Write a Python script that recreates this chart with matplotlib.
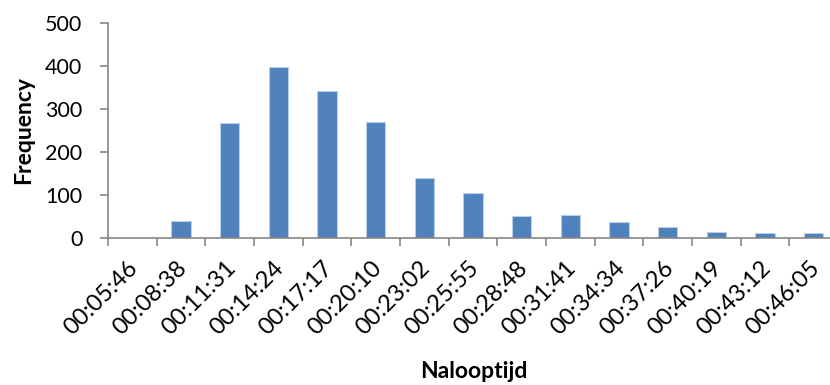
import matplotlib
matplotlib.use("Agg")
import matplotlib.pyplot as plt
import matplotlib.transforms as mtransforms
import numpy as np

plt.rcParams['font.family'] = ['Lato', 'DejaVu Sans']

# histogram data
bins = ['00:05:46', '00:08:38', '00:11:31', '00:14:24', '00:17:17',
        '00:20:10', '00:23:02', '00:25:55', '00:28:48', '00:31:41',
        '00:34:34', '00:37:26', '00:40:19', '00:43:12', '00:46:05']
freq = [0, 40, 267, 398, 342, 270, 139, 104, 51, 54, 37, 26, 14, 12, 12]

axis_grey = '#868686'

fig = plt.figure(figsize=(8.3, 3.85), dpi=100)
# right edge of the plot area is cut off by the picture, as in the reference
ax = fig.add_axes([108/830, 1 - 238.3/385, 730/830, (238.3 - 22.7)/385])

x = np.arange(len(bins))
ax.bar(x, freq, width=0.4, color='#4F81BD', edgecolor='#B9CDE5', linewidth=0.8, zorder=2)

ax.set_xlim(-0.5, len(bins) - 0.5)
ax.set_ylim(0, 500)
ax.set_yticks(range(0, 501, 100))

# ticks between categories, labels at the category centres
ax.set_xticks(np.arange(-0.5, len(bins), 1.0))
ax.set_xticklabels([])
ax.set_xticks(x, minor=True)
ax.set_xticklabels(bins, minor=True, rotation=45, ha='center', va='center',
                   rotation_mode='anchor', fontsize=17)
ax.tick_params(axis='x', which='minor', length=0, pad=43)
ax.tick_params(axis='x', which='major', length=6, width=1.2, color=axis_grey)
ax.tick_params(axis='y', length=6, width=1.2, color=axis_grey, labelsize=15.5, pad=12.5)

# Excel puts the rotated labels left of the category centre
shift = mtransforms.ScaledTranslation(-31/100, 0, fig.dpi_scale_trans)
for lab in ax.get_xticklabels(minor=True):
    lab.set_transform(lab.get_transform() + shift)

for side in ['top', 'right']:
    ax.spines[side].set_visible(False)
for side in ['left', 'bottom']:
    ax.spines[side].set_color(axis_grey)
    ax.spines[side].set_linewidth(1.2)

ax.set_ylabel('Frequency', fontsize=16.5, fontweight='bold', labelpad=8)
fig.text(474/830, 1 - 371/385, 'Nalooptijd', fontsize=16.5, fontweight='bold',
         ha='center', va='center')

fig.savefig('out.png', dpi=100)
